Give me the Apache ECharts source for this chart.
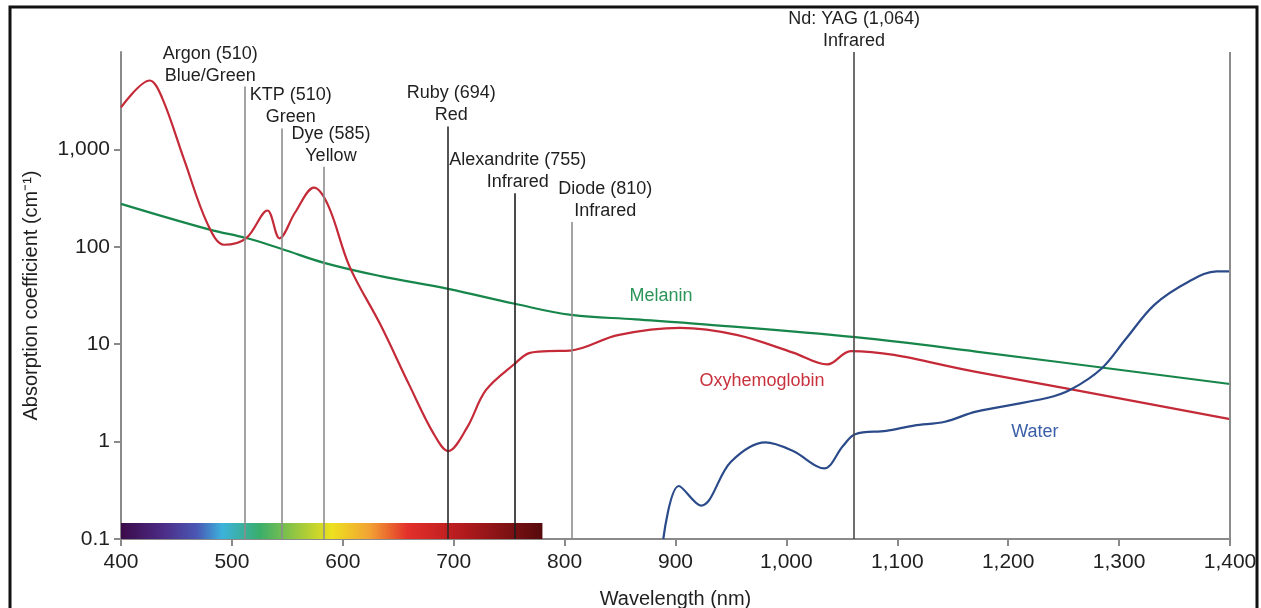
<!DOCTYPE html>
<html>
<head>
<meta charset="utf-8">
<title>Absorption spectra</title>
<script src="https://cdn.jsdelivr.net/npm/echarts@6.0.0/dist/echarts.min.js"></script>
<style>
  html, body { margin: 0; padding: 0; background: #fff; }
  #chart { width: 1261px; height: 608px; }
</style>
</head>
<body>
<div id="chart"></div>
<script>
  // absorption curves, [wavelength nm, coefficient cm^-1]
  const melanin = [
    [400, 276], [480, 150], [513, 123], [545, 95], [584, 68], [634, 50],
    [695, 37], [755, 26], [806, 20], [864, 18], [926, 16], [1062, 11.8],
    [1171, 8.4], [1400, 3.9]
  ]
  const oxyhemoglobin = [
    [400, 2700], [426, 5100], [437, 3400], [457, 780], [478, 172], [493, 105],
    [513, 123], [532, 236], [543, 122], [557, 225], [574, 405], [587, 263],
    [606, 63], [634, 15.8], [660, 3.8], [682, 1.2], [695, 0.8], [712, 1.39],
    [729, 3.37], [755, 6.3], [768, 8.1], [785, 8.5], [805, 8.6], [848, 12.4],
    [904, 14.7], [956, 12.4], [1006, 8.2], [1037, 6.2], [1058, 8.5],
    [1171, 5.2], [1400, 1.7]
  ]
  const water = [
    [889, 0.1], [903, 0.35], [923, 0.22], [950, 0.62], [981, 0.98], [1006, 0.8],
    [1034, 0.53], [1051, 0.9], [1062, 1.19], [1090, 1.29], [1115, 1.46],
    [1143, 1.6], [1171, 2.03], [1235, 2.8], [1256, 3.4], [1284, 5.6],
    [1306, 11.3], [1332, 25.5], [1363, 44], [1388, 56], [1400, 56]
  ]

  // laser lines
  const laserNames = ['Argon (510)', 'KTP (510)', 'Dye (585)', 'Ruby (694)', 'Alexandrite (755)', 'Diode (810)', 'Nd: YAG (1,064)']
  const laserBands = ['Blue/Green', 'Green', 'Yellow', 'Red', 'Infrared', 'Infrared', 'Infrared']
  const laserNm = [512, 545, 583, 695, 755, 806, 1061]
  const laserTop = [4430, 1640, 665, 1720, 354, 180, 10000]

  // visible spectrum bar
  const spectrumNm = [400, 780]
  const spectrumHeight = [0.1, 0.146]

  // tick labels
  const yTicks = [0.1, 1, 10, 100, 1000]

  const font = '"Liberation Sans", Arial, Helvetica, sans-serif'

  const chart = echarts.init(document.getElementById('chart'), null, { renderer: 'canvas' })

  // label placement and line colour for each laser
  const laserLook = [
    { off: [-35, 1], color: '#8c8c8c' },
    { off: [9, 0], color: '#8c8c8c' },
    { off: [7, 0], color: '#8c8c8c' },
    { off: [3, 0], color: '#2a2a2a' },
    { off: [3, 0], color: '#1e1e1e' },
    { off: [34, 0], color: '#8c8c8c' },
    { off: [0, 0], color: '#4a4a4a' }
  ]

  const laserLines = laserNm.map((nm, i) => {
    return [
      {
        coord: [nm, 0.1],
        lineStyle: { color: laserLook[i].color, width: 1.6, type: 'solid' },
        label: {
          show: true,
          position: 'end',
          distance: 0,
          offset: laserLook[i].off,
          formatter: laserNames[i] + '\n' + laserBands[i],
          color: '#1f1f1f',
          fontSize: 18,
          lineHeight: 22,
          fontFamily: font,
          align: 'center'
        }
      },
      { coord: [nm, laserTop[i]] }
    ]
  })
  // right border of the plot
  laserLines.push([
    { coord: [1400, 0.1], lineStyle: { color: '#8c8c8c', width: 2, type: 'solid' }, label: { show: false } },
    { coord: [1400, 10000] }
  ])

  const curveLabel = (text, coord, color) => {
    return {
      coord: coord,
      symbol: 'circle',
      symbolSize: 1,
      itemStyle: { color: 'rgba(0,0,0,0)' },
      label: { show: true, position: 'inside', formatter: text, color: color, fontSize: 18, fontFamily: font }
    }
  }

  const option = {
    animation: false,
    backgroundColor: '#fff',
    grid: { left: 121, right: 31, top: 52, bottom: 69, outerBoundsMode: 'none', containLabel: false },
    xAxis: {
      type: 'value',
      min: 400,
      max: 1400,
      interval: 100,
      name: 'Wavelength (nm)',
      nameLocation: 'middle',
      nameGap: 50,
      nameTextStyle: { fontSize: 20, color: '#1f1f1f', fontFamily: font },
      axisLine: { lineStyle: { color: '#8a8a8a', width: 2 } },
      axisTick: { length: 7, lineStyle: { color: '#8a8a8a', width: 2 } },
      axisLabel: {
        margin: 13,
        fontSize: 21,
        color: '#1f1f1f',
        fontFamily: font,
        formatter: (v) => v.toLocaleString('en-US')
      },
      splitLine: { show: false }
    },
    yAxis: {
      type: 'log',
      logBase: 10,
      min: 0.1,
      max: 10000,
      name: 'Absorption coefficient (cm\u207B\u00B9)',
      nameLocation: 'middle',
      nameGap: 80,
      nameTextStyle: { fontSize: 20, color: '#1f1f1f', fontFamily: font },
      axisLine: { show: true, lineStyle: { color: '#8a8a8a', width: 2 } },
      axisTick: { show: true, length: 7, customValues: yTicks, lineStyle: { color: '#8a8a8a', width: 2 } },
      axisLabel: {
        margin: 11,
        fontSize: 21,
        color: '#1f1f1f',
        fontFamily: font,
        customValues: yTicks,
        formatter: (v) => (v >= 10000 ? '' : (v >= 1000 ? Number(v).toLocaleString('en-US') : String(v)))
      },
      splitLine: { show: false }
    },
    series: [
      {
        name: 'lasers',
        type: 'line',
        data: [],
        z: 1,
        silent: true,
        markLine: {
          silent: true,
          symbol: ['none', 'none'],
          data: laserLines
        }
      },
      {
        name: 'Melanin',
        type: 'line',
        data: melanin,
        smooth: 0.4,
        showSymbol: false,
        z: 3,
        lineStyle: { color: '#17864a', width: 2.2 },
        itemStyle: { color: '#17864a' },
        markPoint: { silent: true, data: [curveLabel('Melanin', [887, 31], '#2a9558')] }
      },
      {
        name: 'Oxyhemoglobin',
        type: 'line',
        data: oxyhemoglobin,
        smooth: 0.35,
        showSymbol: false,
        z: 3,
        lineStyle: { color: '#c42a37', width: 2.2 },
        itemStyle: { color: '#c42a37' },
        markPoint: { silent: true, data: [curveLabel('Oxyhemoglobin', [978, 4.2], '#c8323e')] }
      },
      {
        name: 'Water',
        type: 'line',
        data: water,
        smooth: 0.35,
        showSymbol: false,
        z: 3,
        lineStyle: { color: '#2b4a8a', width: 2.2 },
        itemStyle: { color: '#2b4a8a' },
        markPoint: { silent: true, data: [curveLabel('Water', [1224, 1.25], '#3a5fa8')] }
      },
      {
        name: 'spectrum',
        type: 'line',
        data: [],
        z: 5,
        silent: true,
        markArea: {
          silent: true,
          itemStyle: {
            opacity: 1,
            color: new echarts.graphic.LinearGradient(0, 0, 1, 0, [
              { offset: 0, color: '#3b0a4a' },
              { offset: 0.1, color: '#4c2c86' },
              { offset: 0.18, color: '#4a58b4' },
              { offset: 0.24, color: '#3cb2dc' },
              { offset: 0.33, color: '#3aae6a' },
              { offset: 0.43, color: '#a6cb3a' },
              { offset: 0.5, color: '#ede11e' },
              { offset: 0.59, color: '#f2a234' },
              { offset: 0.68, color: '#e3302a' },
              { offset: 0.8, color: '#b81c1e' },
              { offset: 1, color: '#560a0c' }
            ])
          },
          data: [[
            { coord: [spectrumNm[0], spectrumHeight[0]] },
            { coord: [spectrumNm[1], spectrumHeight[1]] }
          ]]
        }
      }
    ],
    graphic: [
      {
        type: 'rect',
        silent: true,
        shape: { x: 10, y: 7, width: 1247, height: 620 },
        style: { fill: 'none', stroke: '#111', lineWidth: 3 }
      }
    ]
  }

  chart.setOption(option)
</script>
</body>
</html>
